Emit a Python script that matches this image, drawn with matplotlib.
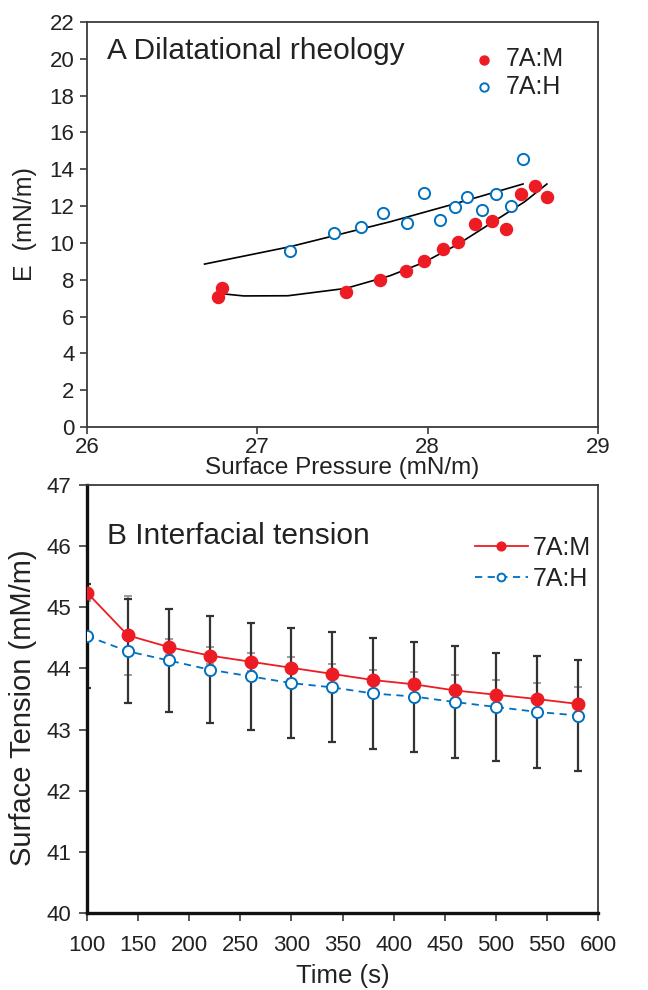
import matplotlib
matplotlib.use("Agg")
import matplotlib.pyplot as plt
import numpy as np

plt.rcParams['font.family'] = ['Liberation Sans', 'DejaVu Sans']

# ---------------- Panel A data ----------------
pressure_M = [26.77, 26.79, 27.52, 27.72, 27.87, 27.98, 28.09, 28.18, 28.28, 28.38, 28.46, 28.55, 28.63, 28.70]
E_M = [7.08, 7.57, 7.32, 8.00, 8.47, 9.02, 9.65, 10.03, 11.01, 11.19, 10.74, 12.66, 13.11, 12.51]
pressure_H = [27.19, 27.45, 27.61, 27.74, 27.88, 27.98, 28.07, 28.16, 28.23, 28.32, 28.40, 28.49, 28.56]
E_H = [9.58, 10.55, 10.88, 11.64, 11.10, 12.73, 11.26, 11.93, 12.51, 11.80, 12.64, 12.02, 14.57]
# trend lines
trend_H_x = [26.69, 27.19, 27.78, 28.18, 28.56]
trend_H_y = [8.85, 9.79, 11.15, 12.18, 13.20]
trend_M_x = [26.77, 26.92, 27.18, 27.52, 27.78, 27.98, 28.18, 28.37, 28.57, 28.70]
trend_M_y = [7.26, 7.12, 7.13, 7.53, 8.22, 8.95, 9.94, 11.06, 12.24, 13.20]

# ---------------- Panel B data ----------------
time_s = [100, 140, 180, 220, 260, 300, 340, 380, 420, 460, 500, 540, 580]
tension_M = [45.24, 44.54, 44.35, 44.21, 44.11, 44.01, 43.91, 43.81, 43.74, 43.64, 43.57, 43.50, 43.42]
tension_H = [44.53, 44.28, 44.13, 43.98, 43.87, 43.76, 43.69, 43.59, 43.54, 43.45, 43.37, 43.29, 43.23]
err_M = [0.14, 0.65, 0.13, 0.14, 0.15, 0.18, 0.17, 0.17, 0.20, 0.25, 0.24, 0.26, 0.27]
err_H = [0.85, 0.85, 0.85, 0.87, 0.88, 0.90, 0.90, 0.90, 0.90, 0.91, 0.88, 0.92, 0.90]

RED = '#ED1C24'
BLUE = '#0070C0'
SPINE = '#3a3a3a'
TXT = '#222222'

fig = plt.figure(figsize=(6.48, 9.90), dpi=100)
W, H = 648, 990

def axes_px(left, top, right, bottom):
    return fig.add_axes([left / W, 1 - bottom / H, (right - left) / W, (bottom - top) / H])

# ---------------- Panel A ----------------
axA = axes_px(87, 22, 598, 427)
axA.plot(trend_H_x, trend_H_y, color='black', lw=1.2, zorder=2)
axA.plot(trend_M_x, trend_M_y, color='black', lw=1.2, zorder=2)
axA.scatter(pressure_M, E_M, s=75, color=RED, edgecolors=RED, zorder=3, label='7A:M')
axA.scatter(pressure_H, E_H, s=65, facecolors='white', edgecolors=BLUE, linewidths=1.4, zorder=3, label='7A:H')
axA.set_xlim(26, 29)
axA.set_ylim(0, 22)
axA.set_xticks([26, 27, 28, 29])
axA.set_yticks(np.arange(0, 23, 2))
axA.set_xlabel('Surface Pressure (mN/m)', fontsize=17.5, color=TXT)
axA.set_ylabel('E  (mN/m)', fontsize=18, color=TXT)
axA.xaxis.set_label_coords(0.5, -0.073)
axA.yaxis.set_label_coords(-0.097, 0.5)
axA.tick_params(direction='out', length=5, width=1.2, labelsize=16, color=SPINE, labelcolor=TXT, pad=4)
axA.tick_params(axis='x', pad=2)
for s in axA.spines.values():
    s.set_color(SPINE)
    s.set_linewidth(1.3)
axA.text(0.039, 0.928, 'A Dilatational rheology', transform=axA.transAxes, fontsize=21.5,
         va='center', ha='left', color=TXT)
axA.legend(loc='upper left', bbox_to_anchor=(0.733, 0.962), frameon=False, fontsize=18,
           handlelength=1.0, handletextpad=0.35, labelspacing=0.13, markerscale=0.75,
           borderaxespad=0, labelcolor=TXT)

# ---------------- Panel B ----------------
axB = axes_px(87, 485, 598, 913)
axB.errorbar(time_s, tension_M, yerr=err_M, fmt='none', ecolor='#8c8c8c', elinewidth=1.2,
             capsize=3, capthick=1.2, zorder=1)
axB.errorbar(time_s, tension_H, yerr=err_H, fmt='none', ecolor='#333333', elinewidth=1.6,
             capsize=3, capthick=1.6, zorder=2)
axB.plot(time_s, tension_M, color=RED, lw=1.3, marker='o', ms=9, mfc=RED, mec=RED,
         zorder=4, label='7A:M')
axB.plot(time_s, tension_H, color=BLUE, lw=1.3, ls=(0, (4, 3)), marker='o', ms=8, mfc='white',
         mec=BLUE, mew=1.4, zorder=3, label='7A:H')
axB.set_xlim(100, 600)
axB.set_ylim(40, 47)
axB.set_xticks(np.arange(100, 601, 50))
axB.set_yticks(np.arange(40, 48, 1))
axB.set_xlabel('Time (s)', fontsize=18.5, color=TXT)
axB.set_ylabel('Surface Tension (mM/m)', fontsize=21, color=TXT)
axB.xaxis.set_label_coords(0.5, -0.12)
axB.yaxis.set_label_coords(-0.097, 0.48)
axB.tick_params(direction='out', length=6, width=1.2, labelsize=16, color=SPINE, labelcolor=TXT, pad=5)
axB.tick_params(axis='x', pad=10)
for name, s in axB.spines.items():
    s.set_color('#111111' if name in ('left', 'bottom') else SPINE)
    s.set_linewidth(2.4 if name in ('left', 'bottom') else 1.3)
axB.text(0.039, 0.88, 'B Interfacial tension', transform=axB.transAxes, fontsize=21.5,
         va='center', ha='left', color=TXT)
axB.legend(loc='upper left', bbox_to_anchor=(0.74, 0.905), frameon=False, fontsize=18,
           handletextpad=0.2, labelspacing=0.29, handlelength=2.1, markerscale=0.7,
           borderaxespad=0, labelcolor=TXT)

fig.savefig('out.png', dpi=100)
